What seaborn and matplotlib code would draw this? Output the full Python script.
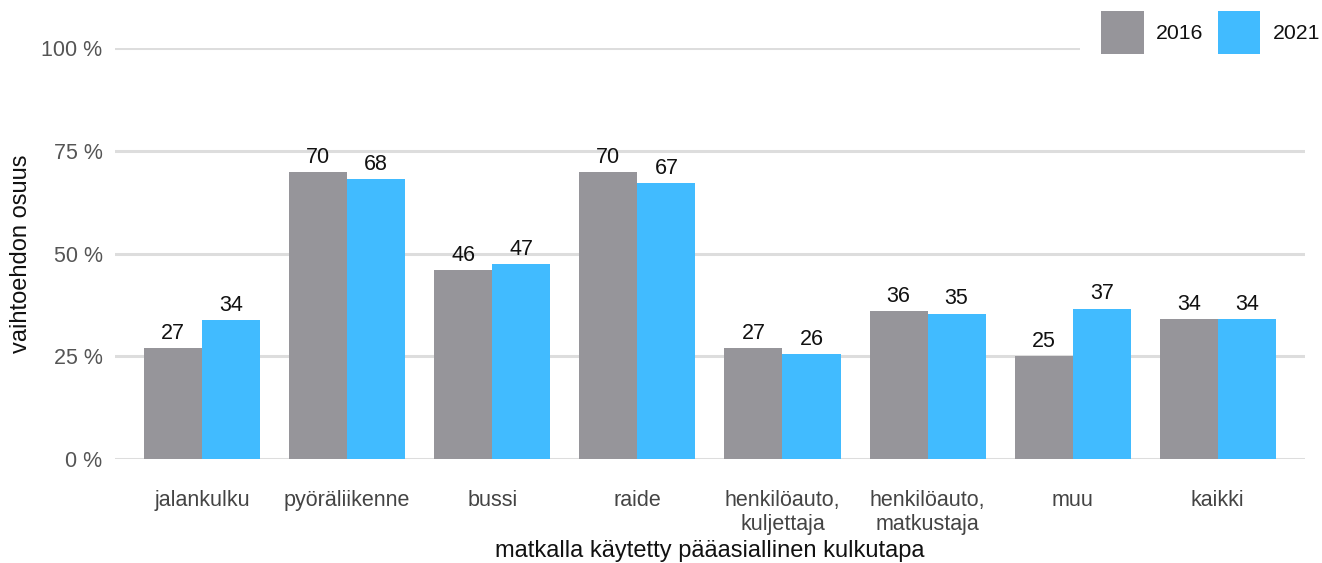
import numpy as np
import pandas as pd
import seaborn as sns
import matplotlib.pyplot as plt

categories = ['jalankulku', 'pyöräliikenne', 'bussi', 'raide',
              'henkilöauto,\nkuljettaja', 'henkilöauto,\nmatkustaja', 'muu', 'kaikki']
years = ['2016', '2021']
share_2016 = [27.0, 69.8, 46.0, 69.8, 27.0, 36.0, 25.1, 34.1]
share_2021 = [33.8, 68.1, 47.4, 67.2, 25.6, 35.4, 36.6, 34.1]
yticks = [0, 25, 50, 75, 100]

df = pd.DataFrame({
    'kulkutapa': categories * 2,
    'vuosi': [years[0]] * len(categories) + [years[1]] * len(categories),
    'osuus': share_2016 + share_2021,
})

sns.set_theme(style='white')
plt.rcParams['font.family'] = ['Liberation Sans', 'DejaVu Sans']

fig = plt.figure(figsize=(13.22, 5.63), dpi=100)
ax = fig.add_axes([0.087, 0.1847, 0.9, 0.73])

palette = {'2016': '#96959a', '2021': '#41bbff'}
sns.barplot(data=df, x='kulkutapa', y='osuus', hue='vuosi', palette=palette,
            width=0.8, saturation=1, linewidth=0, ax=ax, zorder=3)

for cont in ax.containers:
    ax.bar_label(cont, labels=[f'{v:.0f}' for v in cont.datavalues],
                 padding=3, fontsize=15.5, color='#111111')

ax.set_ylim(0, 100)
ax.set_xlim(-0.6, 7.6)
ax.set_yticks(yticks)
ax.set_yticklabels([f'{t} %' for t in yticks])
ax.yaxis.grid(True, color='#dddddd', linewidth=2.2, zorder=0)
ax.set_axisbelow(True)
for s in ax.spines.values():
    s.set_visible(False)
ax.tick_params(axis='y', length=0, pad=9, labelsize=15.5, labelcolor='#555555')
ax.tick_params(axis='x', length=0, pad=22, labelsize=15.5, labelcolor='#444444')

ax.set_xlabel('matkalla käytetty pääasiallinen kulkutapa', fontsize=17,
              color='#111111', labelpad=4)
ax.set_ylabel('vaihtoehdon osuus', fontsize=17, color='#111111', labelpad=7)

# white legend box hides the end of the 100 % gridline, like in the original
leg = ax.legend(loc='upper right', bbox_to_anchor=(1.0227, 1.0375),
                bbox_transform=fig.transFigure, ncol=2, fontsize=15.3,
                handlelength=2.0, handleheight=2.74, handletextpad=0.6,
                columnspacing=0.65, borderpad=1.0, frameon=True,
                facecolor='white', edgecolor='none', framealpha=1)
for t in leg.get_texts():
    t.set_color('#111111')

fig.savefig('out.png', dpi=100)
